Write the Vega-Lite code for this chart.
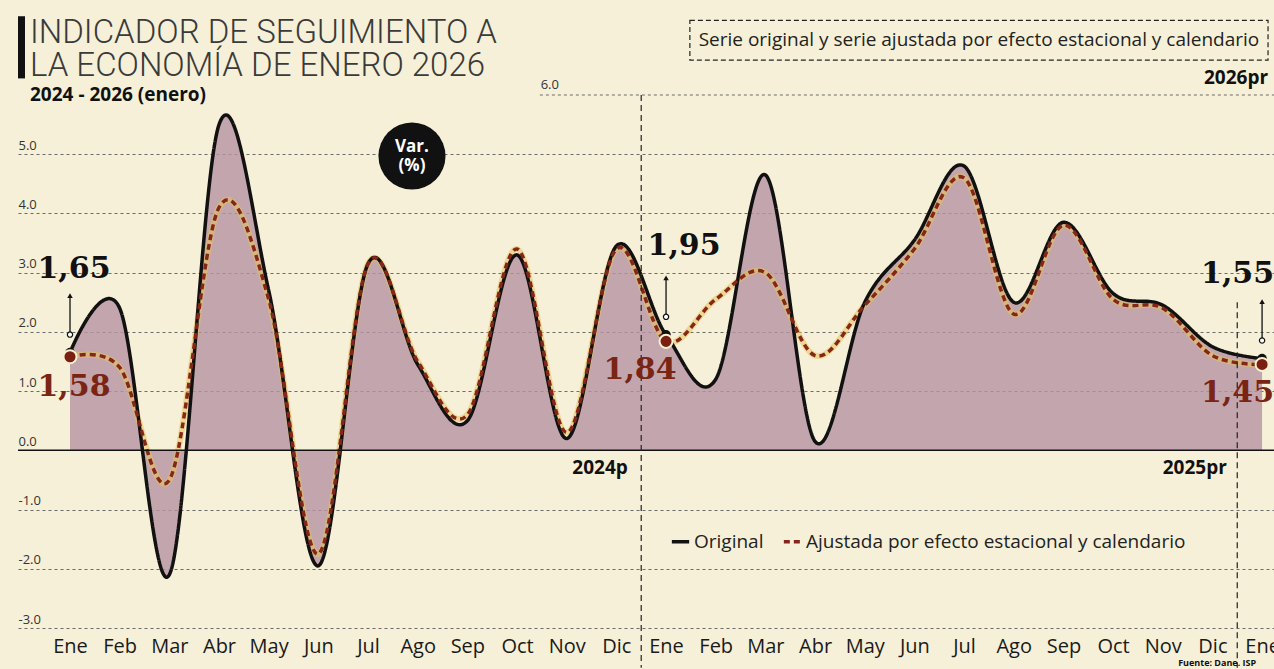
{
"$schema":"https://vega.github.io/schema/vega-lite/v6.json",
"width":1256,"height":533,"autosize":"none",
"padding":{"left":18,"top":95,"right":0,"bottom":41},
"background":"#f6f0d8",
"config":{"view":{"stroke":null},"font":"Open Sans","locale":{"number":{"decimal":",","thousands":".","grouping":[3],"currency":["$",""]}}},
"title":{"text":["INDICADOR DE SEGUIMIENTO A","LA ECONOMÍA DE ENERO 2026"],"subtitle":"2024 - 2026 (enero)","anchor":"start","frame":"group","dx":12,"offset":-89,"font":"Roboto","fontWeight":300,"fontSize":33,"lineHeight":33,"color":"#3a3a3a","subtitleFont":"Open Sans","subtitleFontWeight":700,"subtitleFontSize":19,"subtitleColor":"#111","subtitlePadding":3},
"datasets":{"series":[
{"mes":0,"serie":"Original","valor":1.65},{"mes":1,"serie":"Original","valor":2.4},{"mes":2,"serie":"Original","valor":-2.1},{"mes":3,"serie":"Original","valor":5.5},{"mes":4,"serie":"Original","valor":2.7},{"mes":5,"serie":"Original","valor":-1.95},{"mes":6,"serie":"Original","valor":3.15},{"mes":7,"serie":"Original","valor":1.45},{"mes":8,"serie":"Original","valor":0.5},{"mes":9,"serie":"Original","valor":3.3},{"mes":10,"serie":"Original","valor":0.2},{"mes":11,"serie":"Original","valor":3.45},{"mes":12,"serie":"Original","valor":1.95},{"mes":13,"serie":"Original","valor":1.2},{"mes":14,"serie":"Original","valor":4.65},{"mes":15,"serie":"Original","valor":0.15},{"mes":16,"serie":"Original","valor":2.5},{"mes":17,"serie":"Original","valor":3.55},{"mes":18,"serie":"Original","valor":4.8},{"mes":19,"serie":"Original","valor":2.5},{"mes":20,"serie":"Original","valor":3.85},{"mes":21,"serie":"Original","valor":2.65},{"mes":22,"serie":"Original","valor":2.45},{"mes":23,"serie":"Original","valor":1.75},{"mes":24,"serie":"Original","valor":1.55},
{"mes":0,"serie":"Ajustada por efecto estacional y calendario","valor":1.58},{"mes":1,"serie":"Ajustada por efecto estacional y calendario","valor":1.4},{"mes":2,"serie":"Ajustada por efecto estacional y calendario","valor":-0.5},{"mes":3,"serie":"Ajustada por efecto estacional y calendario","valor":4.1},{"mes":4,"serie":"Ajustada por efecto estacional y calendario","valor":2.55},{"mes":5,"serie":"Ajustada por efecto estacional y calendario","valor":-1.75},{"mes":6,"serie":"Ajustada por efecto estacional y calendario","valor":3.15},{"mes":7,"serie":"Ajustada por efecto estacional y calendario","valor":1.5},{"mes":8,"serie":"Ajustada por efecto estacional y calendario","valor":0.6},{"mes":9,"serie":"Ajustada por efecto estacional y calendario","valor":3.4},{"mes":10,"serie":"Ajustada por efecto estacional y calendario","valor":0.3},{"mes":11,"serie":"Ajustada por efecto estacional y calendario","valor":3.4},{"mes":12,"serie":"Ajustada por efecto estacional y calendario","valor":1.84},{"mes":13,"serie":"Ajustada por efecto estacional y calendario","valor":2.55},{"mes":14,"serie":"Ajustada por efecto estacional y calendario","valor":3.0},{"mes":15,"serie":"Ajustada por efecto estacional y calendario","valor":1.6},{"mes":16,"serie":"Ajustada por efecto estacional y calendario","valor":2.45},{"mes":17,"serie":"Ajustada por efecto estacional y calendario","valor":3.4},{"mes":18,"serie":"Ajustada por efecto estacional y calendario","valor":4.6},{"mes":19,"serie":"Ajustada por efecto estacional y calendario","valor":2.3},{"mes":20,"serie":"Ajustada por efecto estacional y calendario","valor":3.8},{"mes":21,"serie":"Ajustada por efecto estacional y calendario","valor":2.55},{"mes":22,"serie":"Ajustada por efecto estacional y calendario","valor":2.4},{"mes":23,"serie":"Ajustada por efecto estacional y calendario","valor":1.6},{"mes":24,"serie":"Ajustada por efecto estacional y calendario","valor":1.45}
]},
"data":{"name":"series"},
"layer":[
{"transform":[{"filter":"datum.serie === 'Original'"}],
 "mark":{"type":"area","interpolate":"cardinal","color":"#b793a3","opacity":0.8},
 "encoding":{
  "x":{"field":"mes","type":"quantitative","scale":{"domain":[-1.047,24.24],"nice":false,"zero":false},"axis":{"values":[0,1,2,3,4,5,6,7,8,9,10,11,12,13,14,15,16,17,18,19,20,21,22,23,24],"labelExpr":"['Ene','Feb','Mar','Abr','May','Jun','Jul','Ago','Sep','Oct','Nov','Dic'][datum.value % 12]","title":null,"domain":false,"ticks":false,"grid":false,"labelFont":"Open Sans","labelFontSize":20,"labelColor":"#1a1a1a","labelPadding":8,"labelFlush":false,"labelOverlap":false}},
  "y":{"field":"valor","type":"quantitative","scale":{"domain":[-3,6],"nice":false,"zero":false},"axis":{"values":[-3,-2,-1,0,1,2,3,4,5],"labelExpr":"datum.value + '.0'","title":null,"domain":false,"ticks":false,"grid":true,"gridDash":[3,3],"gridColor":"#6b6b6b","gridWidth":1,"labelAlign":"left","labelBaseline":"bottom","labelPadding":0,"labelOffset":-2,"labelFontSize":13,"labelColor":"#333","labelFont":"Open Sans"}},
  "y2":{"datum":0}}},
{"transform":[{"filter":"datum.serie !== 'Original'"}],
 "mark":{"type":"line","interpolate":"cardinal","color":"#e6c35a","strokeWidth":6,"opacity":0.55},
 "encoding":{"x":{"field":"mes","type":"quantitative"},"y":{"field":"valor","type":"quantitative"}}},
{"mark":{"type":"line","interpolate":"cardinal","strokeWidth":3.5},
 "encoding":{"x":{"field":"mes","type":"quantitative"},"y":{"field":"valor","type":"quantitative"},
  "color":{"field":"serie","type":"nominal","scale":{"domain":["Original","Ajustada por efecto estacional y calendario"],"range":["#111111","#85261a"]},"legend":{"orient":"none","legendX":652,"legendY":436,"direction":"horizontal","title":null,"symbolType":"stroke","symbolStrokeWidth":3.5,"symbolSize":300,"labelFontSize":19,"labelFont":"Open Sans","labelColor":"#222","labelLimit":0,"columnPadding":12,"labelOffset":3}},
  "strokeDash":{"field":"serie","type":"nominal","scale":{"domain":["Original","Ajustada por efecto estacional y calendario"],"range":[[1,0],[6,4]]},"legend":{"orient":"none","legendX":652,"legendY":436,"direction":"horizontal","title":null,"symbolType":"stroke","symbolStrokeWidth":3.5,"symbolSize":300,"labelFontSize":19,"labelFont":"Open Sans","labelColor":"#222","labelLimit":0,"columnPadding":12,"labelOffset":3}}}},
{"data":{"values":[{}]},"mark":{"type":"rule","color":"#111","strokeWidth":1.5},"encoding":{"y":{"datum":0}}},
{"data":{"values":[{}]},"mark":{"type":"rule","color":"#222","strokeDash":[6,4],"strokeWidth":1.2},"encoding":{"x":{"datum":11.5},"y":{"datum":6},"y2":{"datum":-3.67}}},
{"data":{"values":[{}]},"mark":{"type":"rule","color":"#222","strokeDash":[6,4],"strokeWidth":1.2},"encoding":{"x":{"datum":23.5},"y":{"datum":2.5},"y2":{"datum":-3.67}}},
{"data":{"values":[{}]},"mark":{"type":"rule","color":"#6b6b6b","strokeDash":[3,3],"strokeWidth":1},"encoding":{"x":{"datum":9.46},"x2":{"datum":24.24},"y":{"datum":6}}},
{"data":{"values":[{}]},"mark":{"type":"text","fontSize":13,"color":"#333","baseline":"bottom","dy":-3,"font":"Open Sans"},"encoding":{"x":{"datum":9.66},"y":{"datum":6},"text":{"value":"6.0"}}},
{"transform":[{"filter":"datum.serie === 'Original' && datum.mes % 12 === 0"}],
 "mark":{"type":"point","filled":true,"color":"#111","size":90,"opacity":1},
 "encoding":{"x":{"field":"mes","type":"quantitative"},"y":{"field":"valor","type":"quantitative"}}},
{"transform":[{"filter":"datum.serie !== 'Original' && datum.mes % 12 === 0"}],
 "mark":{"type":"point","filled":true,"fill":"#7a1f12","stroke":"#f8f0d0","strokeWidth":2,"size":170,"opacity":1},
 "encoding":{"x":{"field":"mes","type":"quantitative"},"y":{"field":"valor","type":"quantitative"}}},
{"transform":[{"filter":"datum.serie === 'Original' && datum.mes % 12 === 0"}],
 "mark":{"type":"rule","color":"#111","strokeWidth":1.3,"yOffset":-20,"y2Offset":-55},
 "encoding":{"x":{"field":"mes","type":"quantitative"},"y":{"field":"valor","type":"quantitative"},"y2":{"field":"valor"}}},
{"transform":[{"filter":"datum.serie === 'Original' && datum.mes % 12 === 0"}],
 "mark":{"type":"point","shape":"triangle-up","filled":true,"color":"#111","size":30,"yOffset":-57,"opacity":1},
 "encoding":{"x":{"field":"mes","type":"quantitative"},"y":{"field":"valor","type":"quantitative"}}},
{"transform":[{"filter":"datum.serie === 'Original' && datum.mes % 12 === 0"}],
 "mark":{"type":"point","filled":true,"fill":"#ffffff","stroke":"#111","strokeWidth":1.2,"size":28,"yOffset":-18,"opacity":1},
 "encoding":{"x":{"field":"mes","type":"quantitative"},"y":{"field":"valor","type":"quantitative"}}},
{"transform":[{"filter":"datum.serie === 'Original' && datum.mes === 0"}],
 "mark":{"type":"text","font":"DejaVu Serif","fontWeight":"bold","fontSize":30,"color":"#111","align":"center","baseline":"middle","xOffset":4,"yOffset":-84},
 "encoding":{"x":{"field":"mes","type":"quantitative"},"y":{"field":"valor","type":"quantitative"},"text":{"field":"valor","format":".2f"}}},
{"transform":[{"filter":"datum.serie === 'Original' && datum.mes === 12"}],
 "mark":{"type":"text","font":"DejaVu Serif","fontWeight":"bold","fontSize":30,"color":"#111","align":"center","baseline":"middle","xOffset":18,"yOffset":-89},
 "encoding":{"x":{"field":"mes","type":"quantitative"},"y":{"field":"valor","type":"quantitative"},"text":{"field":"valor","format":".2f"}}},
{"transform":[{"filter":"datum.serie === 'Original' && datum.mes === 24"}],
 "mark":{"type":"text","font":"DejaVu Serif","fontWeight":"bold","fontSize":30,"color":"#111","align":"right","baseline":"middle","xOffset":12,"yOffset":-85},
 "encoding":{"x":{"field":"mes","type":"quantitative"},"y":{"field":"valor","type":"quantitative"},"text":{"field":"valor","format":".2f"}}},
{"transform":[{"filter":"datum.serie !== 'Original' && datum.mes === 0"}],
 "mark":{"type":"text","font":"DejaVu Serif","fontWeight":"bold","fontSize":30,"color":"#7a2414","align":"center","baseline":"middle","xOffset":4,"yOffset":30},
 "encoding":{"x":{"field":"mes","type":"quantitative"},"y":{"field":"valor","type":"quantitative"},"text":{"field":"valor","format":".2f"}}},
{"transform":[{"filter":"datum.serie !== 'Original' && datum.mes === 12"}],
 "mark":{"type":"text","font":"DejaVu Serif","fontWeight":"bold","fontSize":30,"color":"#7a2414","align":"center","baseline":"middle","xOffset":-26,"yOffset":29},
 "encoding":{"x":{"field":"mes","type":"quantitative"},"y":{"field":"valor","type":"quantitative"},"text":{"field":"valor","format":".2f"}}},
{"transform":[{"filter":"datum.serie !== 'Original' && datum.mes === 24"}],
 "mark":{"type":"text","font":"DejaVu Serif","fontWeight":"bold","fontSize":30,"color":"#7a2414","align":"right","baseline":"middle","xOffset":12,"yOffset":29},
 "encoding":{"x":{"field":"mes","type":"quantitative"},"y":{"field":"valor","type":"quantitative"},"text":{"field":"valor","format":".2f"}}},
{"data":{"values":[{}]},"mark":{"type":"point","filled":true,"color":"#111","size":4500,"opacity":1},"encoding":{"x":{"datum":6.885},"y":{"datum":4.97}}},
{"data":{"values":[{}]},"mark":{"type":"text","font":"Open Sans","fontWeight":"bold","fontSize":17,"color":"#ffffff","align":"center","baseline":"middle","lineHeight":19},"encoding":{"x":{"datum":6.885},"y":{"datum":5.13},"text":{"value":["Var.","(%)"]}}},
{"data":{"values":[{}]},"mark":{"type":"rect","fill":null,"fillOpacity":0,"stroke":"#222","strokeDash":[5,3],"strokeWidth":1.2},"encoding":{"x":{"datum":12.48},"x2":{"datum":24.12},"y":{"datum":7.26},"y2":{"datum":6.59}}},
{"data":{"values":[{}]},"mark":{"type":"text","font":"Open Sans","fontSize":19,"color":"#222","align":"center","baseline":"middle"},"encoding":{"x":{"datum":18.3},"y":{"datum":6.93},"text":{"value":"Serie original y serie ajustada por efecto estacional y calendario"}}},
{"data":{"values":[{}]},"mark":{"type":"text","font":"Open Sans","fontWeight":"bold","fontSize":19,"color":"#111","align":"right","baseline":"middle"},"encoding":{"x":{"datum":11.23},"y":{"datum":-0.3},"text":{"value":"2024p"}}},
{"data":{"values":[{}]},"mark":{"type":"text","font":"Open Sans","fontWeight":"bold","fontSize":19,"color":"#111","align":"right","baseline":"middle"},"encoding":{"x":{"datum":23.29},"y":{"datum":-0.3},"text":{"value":"2025pr"}}},
{"data":{"values":[{}]},"mark":{"type":"text","font":"Open Sans","fontWeight":"bold","fontSize":19,"color":"#111","align":"right","baseline":"middle"},"encoding":{"x":{"datum":24.12},"y":{"datum":6.28},"text":{"value":"2026pr"}}},
{"data":{"values":[{}]},"mark":{"type":"rect","color":"#111"},"encoding":{"x":{"datum":-1.047},"x2":{"datum":-0.906},"y":{"datum":7.33},"y2":{"datum":6.28}}},
{"data":{"values":[{}]},"mark":{"type":"text","font":"Open Sans","fontWeight":"bold","fontSize":9,"color":"#111","align":"left","baseline":"bottom"},"encoding":{"x":{"datum":22.31},"y":{"datum":-3.67},"text":{"value":"Fuente: Dane. ISP"}}}
]
}
